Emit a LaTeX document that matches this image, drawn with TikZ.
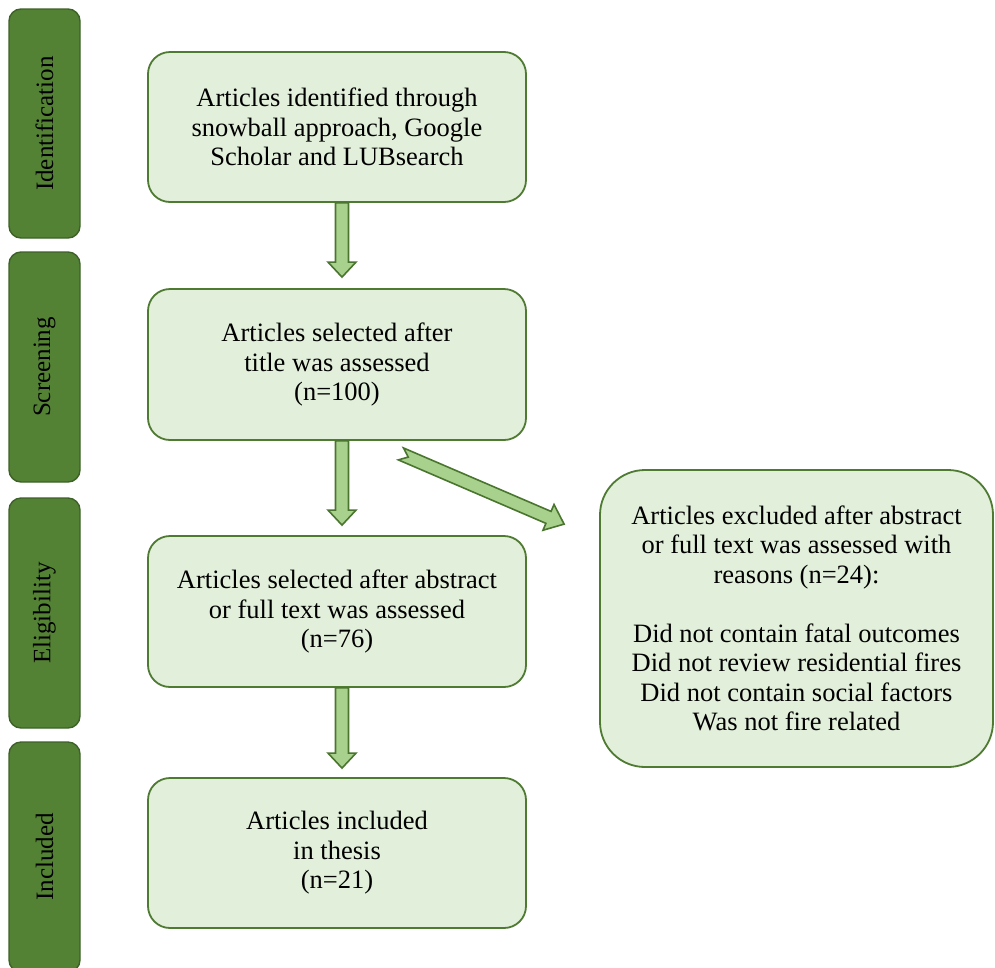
\documentclass[tikz,border=0pt]{standalone}
\usepackage{fontspec}
\setmainfont{Liberation Serif}
\usetikzlibrary{calc}
\definecolor{barfill}{HTML}{548235}
\definecolor{barline}{HTML}{3D6128}
\definecolor{boxfill}{HTML}{E2EFDA}
\definecolor{boxline}{HTML}{4E7A32}
\definecolor{arrfill}{HTML}{A9D18E}
\definecolor{arrline}{HTML}{4A752E}
\tikzset{
  phase/.style={draw=barline, fill=barfill, line width=1.4pt, rounded corners=12pt,
    minimum height=71pt, inner sep=0pt, rotate=90, font=\fontsize{25}{29}\selectfont, text=black},
  stagebox/.style={draw=boxline, fill=boxfill, line width=1.8pt, rounded corners=22pt,
    minimum width=378pt, minimum height=150pt, align=center, inner sep=0pt,
    font=\fontsize{26.5}{29.5}\selectfont},
  bigbox/.style={stagebox, rounded corners=45pt, minimum width=393pt, minimum height=297pt},
  blockarrow/.style={draw=arrline, fill=arrfill, line width=1.6pt, line join=miter}
}
\newcommand{\vblock}[2]{%
  \draw[blockarrow] let \p1=#1, \p2=#2 in
    (\x1-6.5pt,\y1) -- (\x1-6.5pt,\y2+15pt) -- (\x1-14pt,\y2+15pt) -- (\x1,\y2)
    -- (\x1+14pt,\y2+15pt) -- (\x1+6.5pt,\y2+15pt) -- (\x1+6.5pt,\y1) -- cycle;}
\begin{document}
\begin{tikzpicture}[x=1pt,y=-1pt]
\useasboundingbox (0,0) rectangle (995,967);
% phase bars (width along the rotated text = vertical extent)
\node[phase, minimum width=229pt] (pid) at (44.5,123.5) {Identification};
\node[phase, minimum width=230pt] (psc) at (44.5,367) {Screening};
\node[phase, minimum width=230pt] (pel) at (44.5,613) {Eligibility};
\node[phase, minimum width=230pt] (pin) at (44.5,857) {Included};
% boxes
\node[stagebox] (b1) at (337,127) {Articles identified through\\snowball approach, Google\\Scholar and LUBsearch};
\node[stagebox, minimum height=151pt] (b2) at (337,364.5) {Articles selected after\\title was assessed\\(n=100)};
\node[stagebox, minimum height=151pt] (b3) at (337,611.5) {Articles selected after abstract\\or full text was assessed\\(n=76)};
\node[stagebox] (b4) at (337,853) {Articles included\\in thesis\\(n=21)};
\node[bigbox] (b5) at (796.5,618.5) {Articles excluded after abstract\\or full text was assessed with\\reasons (n=24):\\[29.5pt]Did not contain fatal outcomes\\Did not review residential fires\\Did not contain social factors\\Was not fire related};
% vertical arrows
\path ($(b1.south)+(5,0)$) coordinate (a1s) ($(b2.north)+(5,-11)$) coordinate (a1e);
\path ($(b2.south)+(5,0)$) coordinate (a2s) ($(b3.north)+(5,-10)$) coordinate (a2e);
\path ($(b3.south)+(5,0)$) coordinate (a3s) ($(b4.north)+(5,-9)$) coordinate (a3e);
\vblock{(a1s)}{(a1e)}
\vblock{(a2s)}{(a2e)}
\vblock{(a3s)}{(a3e)}
% diagonal arrow
\coordinate (dt) at ($(b2.south east)+(-126,13)$);
\coordinate (dh) at ($(b5.north west)+(-35,55)$);
\coordinate (dhb) at ($(dh)!17pt!(dt)$);
\draw[blockarrow] ($(dt)!6.5pt!90:(dh)$) -- ($(dhb)!6.5pt!90:(dh)$) -- ($(dhb)!14pt!90:(dh)$)
  -- (dh) -- ($(dhb)!14pt!-90:(dh)$) -- ($(dhb)!6.5pt!-90:(dh)$) -- ($(dt)!6.5pt!-90:(dh)$)
  -- ($(dt)!8pt!(dh)$) -- cycle;
\end{tikzpicture}
\end{document}
